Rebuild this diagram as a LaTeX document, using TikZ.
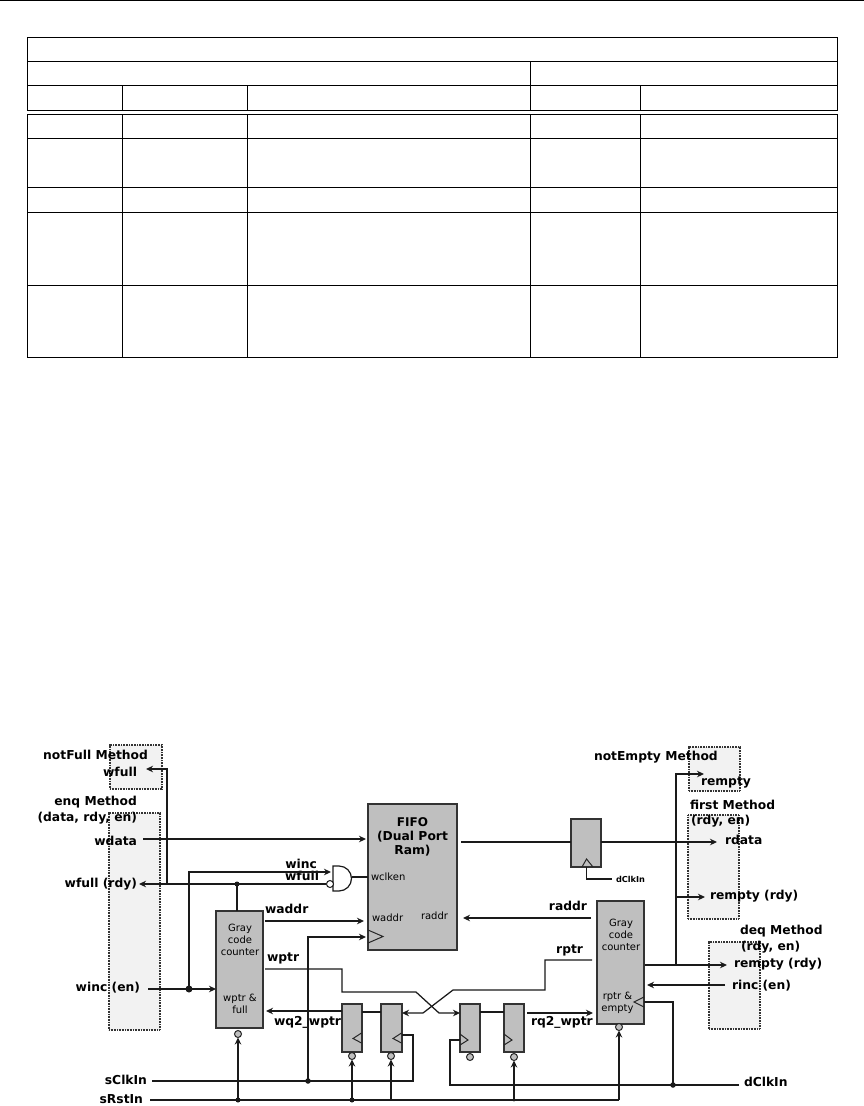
\documentclass[tikz,border=0pt]{standalone}
\usepackage{fontspec}
\setmainfont{DejaVu Sans}
\usetikzlibrary{arrows.meta,calc}
\definecolor{blockgray}{HTML}{BFBFBF}
\definecolor{methodgray}{HTML}{F2F2F2}
\definecolor{wire}{HTML}{1A1A1A}
\tikzset{
  tableline/.style={line width=1pt,black},
  block/.style={draw=black!80,fill=blockgray,line width=1.2pt,inner sep=0pt,outer sep=0pt},
  method/.style={draw=black!80,fill=methodgray,line width=1.2pt,dash pattern=on 1pt off 0.6pt,inner sep=0pt,outer sep=0pt},
  conn/.style={draw=wire,line width=1.25pt},
  arr/.style={conn,-{Stealth[length=7pt,width=6.5pt]}},
  clk/.style={draw=black!85,line width=1pt,fill=none},
  dotn/.style={circle,fill=wire,inner sep=0pt,minimum size=#1,outer sep=0pt},
  dotn/.default=5pt,
  bub/.style={circle,draw=black!85,fill=blockgray,line width=1pt,inner sep=0pt,minimum size=7pt,outer sep=0pt},
  lab/.style={inner sep=0pt,outer sep=0pt,font=\fontsize{12.3}{14}\bfseries\selectfont},
  labr/.style={lab,anchor=east},
  labl/.style={lab,anchor=west},
  small/.style={inner sep=0pt,outer sep=0pt,font=\fontsize{10}{12}\selectfont},
  smallb/.style={small,font=\fontsize{8.2}{10}\bfseries\selectfont},
}
\newcommand{\blk}[6]{\node[#2,minimum width={(#5-#3)*1pt},minimum height={(#6-#4)*1pt}] (#1) at ({(#3+#5)/2},{(#4+#6)/2}) {};}
\begin{document}
\begin{tikzpicture}[x=1pt,y=-1pt]
\fill[white] (0,0) rectangle (864,1106);
\useasboundingbox (0,0) rectangle (864,1106);
% page rule
\draw[line width=1pt] (0,0.5) -- (864,0.5);
% table
\draw[tableline] (27,37) rectangle (837,110);
\draw[tableline] (27,114) rectangle (837,357);
\foreach \y in {61,85} \draw[tableline] (27,\y) -- (837,\y);
\foreach \y in {138,187,212,285} \draw[tableline] (27,\y) -- (837,\y);
\draw[tableline] (530,61) -- (530,110);
\foreach \x in {122,247,640} \draw[tableline] (\x,85) -- (\x,110);
\foreach \x in {122,247,530,640} \draw[tableline] (\x,114) -- (\x,357);
% method boxes
\blk{mNotFull}{method}{110}{745}{162}{789}
\blk{mEnq}{method}{109}{813}{160}{1030}
\blk{mNotEmpty}{method}{689}{747}{740}{791}
\blk{mFirst}{method}{688}{815}{739}{919}
\blk{mDeq}{method}{709}{942}{760}{1029}
% blocks
\blk{fifo}{block}{368}{804}{457}{950}
\blk{gcw}{block}{216}{911}{263}{1028}
\blk{gcr}{block}{597}{901}{644}{1024}
\blk{ffa}{block}{342}{1004}{362}{1052}
\blk{ffb}{block}{381}{1004}{402}{1052}
\blk{ffc}{block}{460}{1004}{480}{1052}
\blk{ffd}{block}{504}{1004}{524}{1052}
\blk{ffo}{block}{571}{819}{601}{867}
% block texts
\node[lab,align=center] (tFifo) at (412.5,837) {\fontsize{12}{15.7}\bfseries\selectfont FIFO\\(Dual Port\\Ram)};
\node[small,align=center] (tGcw) at (240,939.5) {\fontsize{10}{12.5}\selectfont Gray\\code\\counter};
\node[small,align=center] (tGcwb) at (240,1004) {\fontsize{10}{12.5}\selectfont wptr \&\\full};
\node[small,align=center] (tGcr) at (621,934.5) {\fontsize{10}{12.5}\selectfont Gray\\code\\counter};
\node[small,align=center] (tGcrb) at (617.5,1002.5) {\fontsize{10}{12.5}\selectfont rptr \&\\empty};
\node[small,anchor=west] (tWclken) at (371,877) {wclken};
\node[small,anchor=west] (tWaddrIn) at (372,918) {waddr};
\node[small,anchor=west] (tRaddrIn) at (421,916) {raddr};
% labels left
\node[labr] (tNotFull) at (148,755) {notFull Method};
\node[labr] (tWfull) at (137,772) {wfull};
\node[labr] (tEnq) at (137,802) {enq Method};
\node[labr] (tEnqArgs) at (137,818) {(data, rdy, en)};
\node[labr] (tWdata) at (137,841) {wdata};
\node[labr] (tWfullRdy) at (137,884) {wfull (rdy)};
\node[labr] (tWincEn) at (140,988) {winc (en)};
\node[labr] (tSClk) at (147,1080) {sClkIn};
\node[labr] (tSRst) at (143,1099) {sRstIn};
\node[labr] (tWinc) at (317,864) {winc};
\node[labr] (tWfullG) at (319,876) {wfull};
\node[labl] (tWaddr) at (265,909) {waddr};
\node[labl] (tWptr) at (267,958) {wptr};
\node[labl] (tWq) at (274,1022) {wq2\_wptr};
% labels right
\node[labl] (tRq) at (531,1022) {rq2\_wptr};
\node[labr] (tRaddr) at (587,906) {raddr};
\node[labr] (tRptr) at (583,950) {rptr};
\node[labl] (tNotEmpty) at (594,757) {notEmpty Method};
\node[labl] (tRempty) at (701,782) {rempty};
\node[labl] (tFirst) at (690,805) {first Method};
\node[labl] (tFirstArgs) at (691,821) {(rdy, en)};
\node[labl] (tRdata) at (725,840) {rdata};
\node[labl] (tRemptyF) at (710,896) {rempty (rdy)};
\node[labl] (tDeq) at (740,931) {deq Method};
\node[labl] (tDeqArgs) at (741,947) {(rdy, en)};
\node[labl] (tRemptyD) at (734,964) {rempty (rdy)};
\node[labl] (tRinc) at (732,986) {rinc (en)};
\node[labl] (tDClk) at (744,1082) {dClkIn};
\node[smallb,anchor=west] (tDClkS) at (616,879) {dClkIn};
% gate
\coordinate (gateTL) at (333,866);
\coordinate (gateBL) at (333,891);
\draw[draw=black!90,line width=1.2pt,fill=white] (gateTL) -- (339,866) arc[start angle=-90,end angle=90,radius=12.5] -- (gateBL) -- cycle;
\node[circle,draw=black!90,fill=white,line width=1pt,inner sep=0pt,minimum size=7pt] (gateBub) at (330,884) {};
\coordinate (gateOut) at (351.5,877);
\coordinate (gateIn) at (331,872);
% bubbles
\node[bub] (bGcw) at (238,1034) {};
\node[bub] (bGcr) at (619,1027) {};
\node[bub] (bA) at (352,1056) {};
\node[bub] (bB) at (391,1056) {};
\node[bub] (bC) at (470,1057) {};
\node[bub] (bD) at (514,1057) {};
% clock triangles
\draw[clk] (368,930) -- (383,936.5) -- (368,943);
\draw[clk] (361.5,1033) -- (353,1038.5) -- (361.5,1043);
\draw[clk] (401.5,1033) -- (393,1038.5) -- (401.5,1043);
\draw[clk] (460,1034) -- (468,1040) -- (460,1045);
\draw[clk] (504,1034) -- (512,1040) -- (504,1045);
\draw[clk] (644,997) -- (634,1002) -- (644,1007);
\draw[clk] (582,867) -- (586.5,859) -- (593,867);
% junctions and free ends
\coordinate (notFullEnd) at (146,769);
\coordinate (wdataS) at (143,839);
\coordinate (wfullEnd) at (139,884);
\coordinate (wincS) at (148,989);
\coordinate (jWinc) at (189,989);
\coordinate (jGcw) at (237,884);
\coordinate (jWf) at (167,884);
\coordinate (sClkS) at (152,1081);
\coordinate (sRstS) at (150,1100);
\coordinate (jClk) at (308,1081);
\coordinate (dClkE) at (739,1085);
\coordinate (jDclk) at (673,1085);
\coordinate (jFan) at (676,965);
% connectors
\draw[arr] (jWf) -- (167,769) -- (notFullEnd);
\draw[arr] (wdataS) -- (366,839);
\draw[arr] (gateBub.west) -- (wfullEnd);
\draw[arr] (jWinc) -- (189,872) -- (gateIn);
\draw[conn] (gateOut) -- (fifo.west |- gateOut);
\draw[arr] (wincS) -- (gcw.west |- wincS);
\draw[conn] (jGcw) -- (gcw.north -| jGcw);
\draw[arr] (265,921) -- (364,921);
\draw[arr] (jClk) -- (308,937) -- (366,937);
\draw[arr] (265,969) -- (342,969) -- (342,992) -- (416,992) -- (439,1013) -- (ffc.west |- 0,1013);
\draw[arr] (592,960) -- (545,960) -- (545,990) -- (453,990) -- (423,1013) -- (ffb.east |- 0,1013);
\draw[conn] (ffb.west |- 0,1012) -- (ffa.east |- 0,1012);
\draw[arr] (ffa.west |- 0,1011) -- (266,1011);
\draw[conn] (ffc.east |- 0,1012) -- (ffd.west |- 0,1012);
\draw[arr] (527,1013) -- (593,1013);
\draw[conn] (sClkS) -- (413,1081) -- (413,1035) -- (ffb.east |- 0,1035);
\draw[conn] (sRstS) -- (619,1100);
\draw[arr] (238,1100) -- (bGcw.south);
\draw[arr] (352,1100) -- (bA.south);
\draw[arr] (391,1100) -- (bB.south);
\draw[arr] (514,1100) -- (bD.south);
\draw[arr] (619,1100) -- (bGcr.south);
\draw[conn] (dClkE) -- (450,1085) -- (450,1040) -- (ffc.west |- 0,1040);
\draw[conn] (jDclk) -- (673,1002) -- (gcr.east |- 0,1002);
\draw[arr] (591,918) -- (463,918);
\draw[conn] (461,842) -- (ffo.west |- 0,842);
\draw[arr] (ffo.east |- 0,842) -- (717,842);
\draw[conn] (586.5,867) -- (586.5,879) -- (612,879);
\draw[arr] (645,965) -- (727,965);
\draw[arr] (jFan) -- (676,774) -- (704,774);
\draw[arr] (676,897) -- (705,897);
\draw[arr] (725,985) -- (647,985);
% dots
\node[dotn=7pt] (dWinc) at (jWinc) {};
\node[dotn=5pt] (dGcw) at (jGcw) {};
\node[dotn=5.5pt] (dClk) at (jClk) {};
\node[dotn=5pt] (dR1) at (238,1100) {};
\node[dotn=5pt] (dR2) at (352,1100) {};
\node[dotn=3pt] (dR3) at (514,1100) {};
\node[dotn=5.5pt] (dDclk) at (jDclk) {};
\end{tikzpicture}
\end{document}
